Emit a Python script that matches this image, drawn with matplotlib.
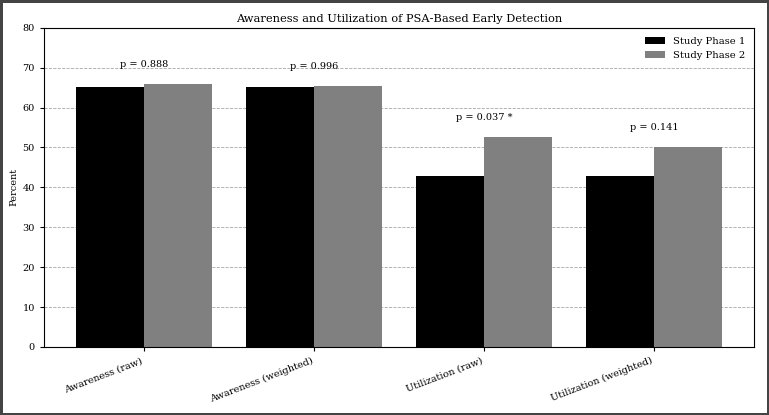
import numpy as np
import matplotlib.pyplot as plt

plt.rcParams['font.family'] = ['DejaVu Serif']

# 数据
categories = ['Awareness (raw)', 'Awareness (weighted)', 'Utilization (raw)', 'Utilization (weighted)']
phase1 = [65.2, 65.2, 42.9, 42.9]
phase2 = [65.9, 65.3, 52.6, 50.1]
p_labels = ['p = 0.888', 'p = 0.996', 'p = 0.037 *', 'p = 0.141']

fig, ax = plt.subplots(figsize=(7.69, 4.15), dpi=100)
fig.patch.set_edgecolor('#444444')
fig.patch.set_linewidth(2.5)

x = np.arange(len(categories))
w = 0.4
ax.bar(x - w/2, phase1, w, color='black', label='Study Phase 1', zorder=2)
ax.bar(x + w/2, phase2, w, color='gray', label='Study Phase 2', zorder=2)

for i, lab in enumerate(p_labels):
    top = max(phase1[i], phase2[i])
    ax.text(x[i], top + 5, lab, ha='center', va='center', fontsize=7)

ax.set_ylim(0, 80)
ax.set_yticks(range(0, 81, 10))
ax.set_xticks(x)
ax.set_xticklabels(categories, rotation=21, ha='right', fontsize=7)
ax.tick_params(axis='y', labelsize=7)
ax.tick_params(length=3)
ax.set_ylabel('Percent', fontsize=7, labelpad=3)
ax.set_title('Awareness and Utilization of PSA-Based Early Detection', fontsize=8.2, pad=4)
ax.yaxis.grid(True, linestyle='--', color='gray', linewidth=0.6, alpha=0.7, zorder=0)
ax.legend(frameon=False, fontsize=7.2, loc='upper right')

plt.subplots_adjust(left=0.057, right=0.981, top=0.933, bottom=0.164)
plt.savefig('out.png', dpi=100, edgecolor=fig.get_edgecolor())
